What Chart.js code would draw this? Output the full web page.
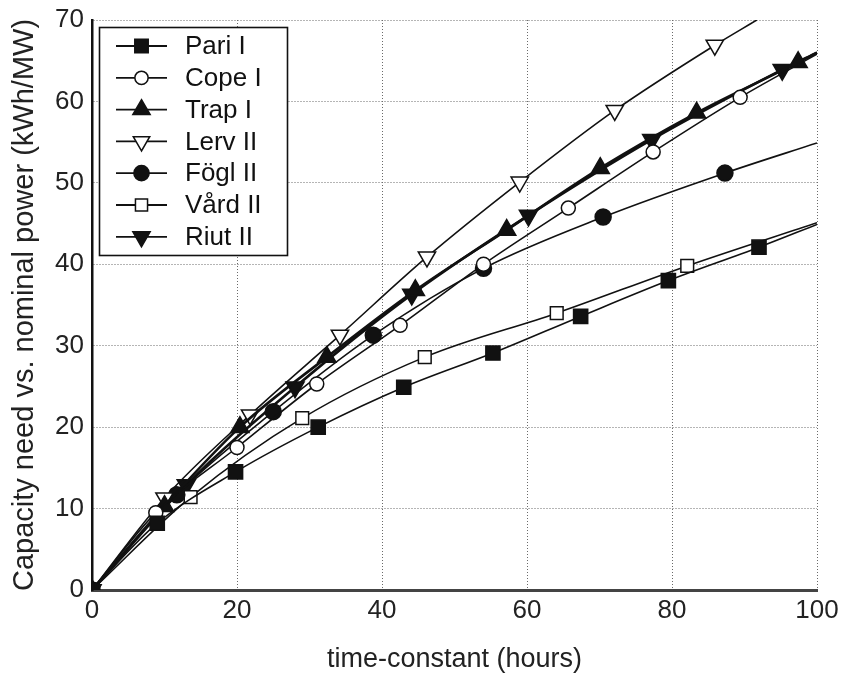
<!DOCTYPE html>
<html>
<head>
<meta charset="utf-8">
<script src="https://cdn.jsdelivr.net/npm/chart.js@4/dist/chart.umd.min.js"></script>
<style>
  html, body { margin: 0; padding: 0; background: #fff; }
  #wrap { width: 842px; height: 676px; position: relative; }
</style>
</head>
<body>
<div id="wrap"><canvas id="capChart"></canvas></div>
<script>
// values; last point of each series is line only (no marker)
const pariX = [0, 9, 19.8, 31.2, 43, 55.3, 67.4, 79.5, 92, 100];
const pariY = [0, 8.2, 14.5, 20, 24.9, 29.1, 33.6, 38, 42.1, 44.9];

const copeX = [0, 8.8, 20, 31, 42.5, 54, 65.7, 77.4, 89.4, 100];
const copeY = [0, 9.5, 17.5, 25.3, 32.5, 40, 46.9, 53.8, 60.5, 65.8];

const trapX = [0, 10, 20.4, 32.4, 44.6, 57.2, 70.1, 83.4, 97.4, 100];
const trapY = [0, 10.3, 20, 28.6, 36.8, 44.2, 51.8, 58.6, 64.8, 66];

const lervX = [0, 10, 21.8, 34.2, 46.2, 59, 72.1, 85.9, 91.7];
const lervY = [0, 11.3, 21.5, 31.3, 40.9, 50.1, 58.9, 66.9, 70];

const foglX = [0, 11.7, 25, 38.8, 54, 70.5, 87.3, 100];
const foglY = [0, 11.7, 21.9, 31.3, 39.5, 45.8, 51.2, 54.9];

const vardX = [0, 13.6, 29, 45.9, 64.1, 82.1, 100];
const vardY = [0, 11.4, 21.1, 28.6, 34, 39.8, 45.1];

const riutX = [0, 13, 28, 44.1, 60.2, 77.2, 95.2, 100];
const riutY = [0, 12.9, 24.9, 36.3, 46, 55.3, 63.9, 66];

const seriesNames = ['Pari I', 'Cope I', 'Trap I', 'Lerv II', 'Fögl II', 'Vård II', 'Riut II'];
const xTicks = [0, 20, 40, 60, 80, 100];
const yTicks = [0, 10, 20, 30, 40, 50, 60, 70];

const FONT = "'Liberation Sans', Arial, sans-serif";
const INK = '#111';

function pts(xs, ys) {
    return xs.map((x, i) => ({ x: x, y: ys[i] }));
}

// marker look per series
const markers = [
    { shape: 'rect', fill: INK, r: 10, lw: 1.6 },
    { shape: 'circle', fill: '#fff', r: 7, lw: 1.6 },
    { shape: 'triangle', rot: 0, fill: INK, r: 10.5, lw: 2.6 },
    { shape: 'triangle', rot: 180, fill: '#fff', r: 10, lw: 1.6 },
    { shape: 'circle', fill: INK, r: 8, lw: 1.6 },
    { shape: 'rect', fill: '#fff', r: 9, lw: 1.6 },
    { shape: 'triangle', rot: 180, fill: INK, r: 10.5, lw: 2.6 }
];

const seriesData = [
    pts(pariX, pariY), pts(copeX, copeY), pts(trapX, trapY), pts(lervX, lervY),
    pts(foglX, foglY), pts(vardX, vardY), pts(riutX, riutY)
];

const datasets = seriesNames.map((name, i) => {
    const m = markers[i];
    const n = seriesData[i].length;
    return {
        label: name,
        data: seriesData[i],
        borderColor: INK,
        borderWidth: m.lw,
        cubicInterpolationMode: 'monotone',
        pointStyle: m.shape,
        rotation: m.rot || 0,
        pointBackgroundColor: m.fill,
        pointBorderColor: INK,
        pointBorderWidth: 1.5,
        pointRadius: ctx => ctx.dataIndex < n - 1 ? m.r : 0,
        pointHoverRadius: ctx => ctx.dataIndex < n - 1 ? m.r : 0,
        clip: 0
    };
});

function drawMarker(ctx, m, x, y, r) {
    ctx.beginPath();
    if (m.shape === 'rect') {
        const s = Math.SQRT1_2 * r;
        ctx.rect(x - s, y - s, 2 * s, 2 * s);
    } else if (m.shape === 'circle') {
        ctx.arc(x, y, r, 0, Math.PI * 2);
    } else {
        let a = (m.rot || 0) * Math.PI / 180;
        ctx.moveTo(x + Math.sin(a) * r, y - Math.cos(a) * r);
        for (let k = 0; k < 2; k++) {
            a += Math.PI * 2 / 3;
            ctx.lineTo(x + Math.sin(a) * r, y - Math.cos(a) * r);
        }
        ctx.closePath();
    }
    ctx.fillStyle = m.fill;
    ctx.fill();
    ctx.lineWidth = 1.5;
    ctx.strokeStyle = INK;
    ctx.stroke();
}

// legend box inside the plot, upper left
const boxLegend = {
    id: 'boxLegend',
    afterDatasetsDraw(chart) {
        const ctx = chart.ctx;
        ctx.save();
        ctx.fillStyle = '#fff';
        ctx.fillRect(99, 27, 188, 228);
        ctx.lineWidth = 1.6;
        ctx.strokeStyle = INK;
        ctx.strokeRect(99.5, 27.5, 188, 228);
        ctx.font = '26px ' + FONT;
        ctx.textBaseline = 'middle';
        seriesNames.forEach((name, i) => {
            const y = 46 + i * 31.8;
            ctx.beginPath();
            ctx.moveTo(116, y);
            ctx.lineTo(167, y);
            ctx.lineWidth = 1.8;
            ctx.strokeStyle = INK;
            ctx.stroke();
            drawMarker(ctx, markers[i], 141.5, y, markers[i].r * 0.95);
            ctx.fillStyle = INK;
            ctx.fillText(name, 185, y + 1);
        });
        ctx.restore();
    }
};

Chart.defaults.font.family = FONT;
Chart.defaults.color = '#222';

new Chart(document.getElementById('capChart').getContext('2d'), {
    type: 'line',
    data: { datasets: datasets },
    options: {
        responsive: true,
        maintainAspectRatio: false,
        animation: false,
        layout: { padding: { left: 0, right: 25, top: 20, bottom: 0 } },
        plugins: { legend: { display: false }, tooltip: { enabled: false } },
        scales: {
            x: {
                type: 'linear',
                min: 0, max: 100,
                afterBuildTicks: s => { s.ticks = xTicks.map(v => ({ value: v })); },
                afterFit: s => { s.height = 86; s.paddingLeft = 0; s.paddingRight = 0; },
                grid: { color: '#6a6a6a', lineWidth: 1, drawTicks: false },
                border: { display: true, color: '#444', width: 3, dash: [1, 2] },
                ticks: { padding: 5, font: { size: 26 }, color: '#222', maxRotation: 0 },
                title: { display: true, text: 'time-constant (hours)', font: { size: 27 }, color: '#222', padding: { top: 0, bottom: 0 } }
            },
            y: {
                type: 'linear',
                min: 0, max: 70,
                afterBuildTicks: s => { s.ticks = yTicks.map(v => ({ value: v })); },
                afterFit: s => { s.width = 92; s.paddingTop = 0; s.paddingBottom = 0; },
                grid: { color: '#6a6a6a', lineWidth: 1, drawTicks: false },
                border: { display: true, color: INK, width: 2.5, dash: [1, 2] },
                ticks: { padding: 8, font: { size: 26 }, color: '#222' },
                title: { display: true, text: 'Capacity need vs. nominal power (kWh/MW)', font: { size: 29 }, color: '#222', padding: { top: 8, bottom: 0 } }
            }
        }
    },
    plugins: [boxLegend]
});
</script>
</body>
</html>
